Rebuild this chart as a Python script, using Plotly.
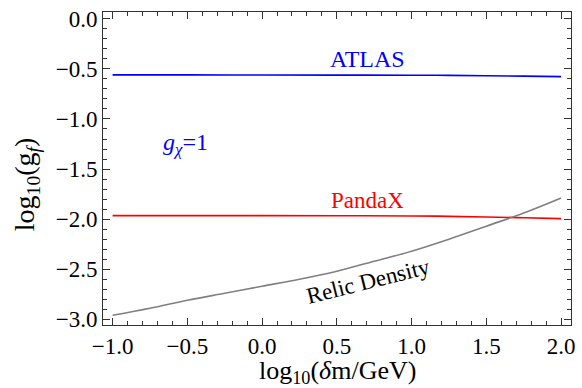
import plotly.graph_objects as go

# Data
x_atlas = [-1.0, -0.5, 0.0, 0.5, 1.0, 1.25, 1.5, 1.75, 2.0]
y_atlas = [-0.560, -0.560, -0.561, -0.562, -0.563, -0.565, -0.568, -0.572, -0.577]

x_pandax = [-1.0, -0.5, 0.0, 0.5, 1.0, 1.25, 1.5, 1.75, 2.0]
y_pandax = [-1.965, -1.965, -1.965, -1.966, -1.968, -1.972, -1.978, -1.986, -1.995]

x_relic = [-1.0, -0.75, -0.5, -0.25, 0.0, 0.25, 0.5, 0.75, 1.0, 1.25, 1.5, 1.75, 2.0]
y_relic = [-2.96, -2.89, -2.81, -2.74, -2.67, -2.60, -2.52, -2.42, -2.32, -2.20, -2.07, -1.94, -1.79]

x_ticks = [-1.0, -0.5, 0.0, 0.5, 1.0, 1.5, 2.0]
y_ticks = [0.0, -0.5, -1.0, -1.5, -2.0, -2.5, -3.0]

FONT = "Liberation Serif"

fig = go.Figure()
fig.add_trace(go.Scatter(x=x_atlas, y=y_atlas, mode="lines",
                         line=dict(color="rgb(0,0,255)", width=1.6), line_shape="spline"))
fig.add_trace(go.Scatter(x=x_pandax, y=y_pandax, mode="lines",
                         line=dict(color="rgb(255,0,0)", width=1.6), line_shape="spline"))
fig.add_trace(go.Scatter(x=x_relic, y=y_relic, mode="lines",
                         line=dict(color="rgb(128,128,128)", width=1.6), line_shape="spline"))

fig.add_annotation(x=0.706, y=-0.403, text="ATLAS", showarrow=False,
                   font=dict(family=FONT, size=24, color="rgb(0,0,255)"))
fig.add_annotation(x=-0.515, y=-1.25, text="<i>g</i><sub><i>χ</i></sub>=1", showarrow=False,
                   font=dict(family=FONT, size=24, color="rgb(0,0,255)"))
fig.add_annotation(x=0.706, y=-1.81, text="PandaX", showarrow=False,
                   font=dict(family=FONT, size=23, color="rgb(255,0,0)"))
fig.add_annotation(x=0.706, y=-2.62, text="Relic Density", showarrow=False, textangle=-14,
                   font=dict(family=FONT, size=23, color="black"))

# Axis titles placed as paper annotations to match the reference offsets
fig.add_annotation(xref="paper", yref="paper", x=0.502, y=-0.15, xanchor="center", yanchor="middle",
                   text="log<sub>10</sub>(<i>δ</i>m/GeV)", showarrow=False,
                   font=dict(family=FONT, size=26, color="black"))
fig.add_annotation(xref="paper", yref="paper", x=-0.163, y=0.449, xanchor="center", yanchor="middle",
                   text="log<sub>10</sub>(g<sub><i>f</i></sub>)", showarrow=False, textangle=-90,
                   font=dict(family=FONT, size=28, color="black"))

axis_common = dict(
    showgrid=False, zeroline=False, showline=True, linecolor="#333", linewidth=1,
    ticks="inside", ticklen=7, tickwidth=1, tickcolor="#333", mirror="allticks",
    tickfont=dict(family=FONT, size=23, color="black"),
    ticklabeloverflow="allow",
    minor=dict(dtick=0.1, ticks="inside", ticklen=4, tickwidth=1, tickcolor="#333"),
)

fig.update_layout(
    width=582, height=388,
    margin=dict(l=103, r=7, t=11, b=63),
    paper_bgcolor="white", plot_bgcolor="white",
    showlegend=False,
    xaxis=dict(range=[-1.064, 2.066], tickvals=x_ticks,
               ticktext=[f"{v:.1f}".replace("-", "\u2212") for v in x_ticks],
               **axis_common),
    yaxis=dict(range=[-3.057, 0.068], tickvals=y_ticks,
               ticktext=[f"{v:.1f}".replace("-", "\u2212") for v in y_ticks],
               **axis_common),
)

fig.write_html("out.html", config={"displayModeBar": False},
               post_script="document.body.style.margin='0';document.body.style.overflow='hidden';")
